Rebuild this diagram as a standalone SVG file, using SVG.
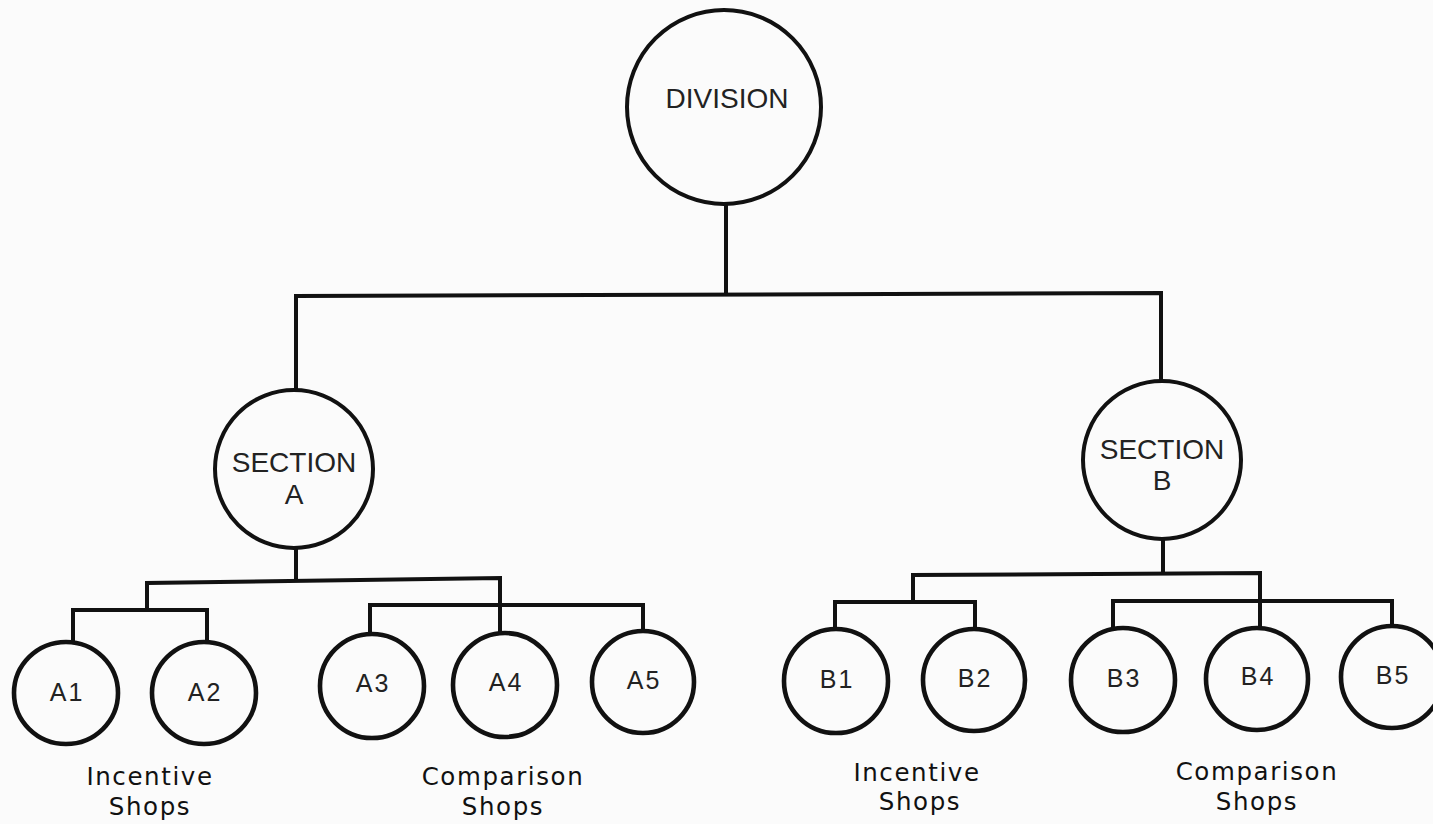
<svg xmlns="http://www.w3.org/2000/svg" width="1433" height="824" viewBox="0 0 1433 824">
<style>
.node{fill:none;stroke:#111;stroke-width:4}
.leaf{fill:none;stroke:#111;stroke-width:4.6}
.conn{fill:none;stroke:#111;stroke-width:4;stroke-linejoin:miter}
.lbl{font-family:"Liberation Sans",Arial,sans-serif;fill:#222;text-anchor:middle}
.big{font-size:28px}
.small{font-size:25px;letter-spacing:2px}
.cap{font-family:"DejaVu Sans",sans-serif;font-size:24.5px;fill:#111;text-anchor:middle;letter-spacing:1.6px}
</style>
<rect width="1433" height="824" fill="#fbfbfb"/>
<g id="connectors">
<path class="conn" d="M726,203 V294"/>
<path class="conn" d="M296,391 V296 L1161,293 V382"/>
<path class="conn" d="M296,548 V581"/>
<path class="conn" d="M147,610 V583 L500,578 V632"/>
<path class="conn" d="M73,643 V610 H207 V642"/>
<path class="conn" d="M370,634 V605 H643 V631"/>
<path class="conn" d="M1163,539 V574"/>
<path class="conn" d="M913,602 V575 L1260,573 V628"/>
<path class="conn" d="M835,630 V602 H975 V628"/>
<path class="conn" d="M1113,628 V601 H1392 V626"/>
</g>
<g id="division"><circle class="node" cx="724" cy="107" r="97"/><text class="lbl big" x="727" y="108">DIVISION</text></g>
<g id="sectionA"><circle class="node" cx="294" cy="469" r="79"/><text class="lbl big" x="294" y="472">SECTION</text><text class="lbl big" x="294" y="504">A</text></g>
<g id="sectionB"><circle class="node" cx="1162" cy="460" r="79"/><text class="lbl big" x="1162" y="459">SECTION</text><text class="lbl big" x="1162" y="490">B</text></g>
<g id="A1"><ellipse class="leaf" cx="66" cy="693" rx="52" ry="51"/><text class="lbl small" x="67" y="701">A1</text></g>
<g id="A2"><ellipse class="leaf" cx="204" cy="693" rx="52" ry="51"/><text class="lbl small" x="205" y="701">A2</text></g>
<g id="A3"><circle class="leaf" cx="372" cy="686" r="52"/><text class="lbl small" x="373" y="692">A3</text></g>
<g id="A4"><circle class="leaf" cx="505" cy="685" r="52"/><text class="lbl small" x="506" y="691">A4</text></g>
<g id="A5"><circle class="leaf" cx="643" cy="682" r="51"/><text class="lbl small" x="644" y="689">A5</text></g>
<g id="B1"><circle class="leaf" cx="836" cy="681" r="52"/><text class="lbl small" x="837" y="688">B1</text></g>
<g id="B2"><circle class="leaf" cx="974" cy="680" r="51"/><text class="lbl small" x="975" y="687">B2</text></g>
<g id="B3"><circle class="leaf" cx="1123" cy="680" r="52"/><text class="lbl small" x="1124" y="687">B3</text></g>
<g id="B4"><circle class="leaf" cx="1257" cy="679" r="51"/><text class="lbl small" x="1258" y="685">B4</text></g>
<g id="B5"><circle class="leaf" cx="1392" cy="677" r="51"/><text class="lbl small" x="1393" y="684">B5</text></g>
<g id="labels">
<text class="cap" x="150" y="785">Incentive</text><text class="cap" x="150" y="815">Shops</text>
<text class="cap" x="503" y="785">Comparison</text><text class="cap" x="503" y="815">Shops</text>
<text class="cap" x="917" y="781">Incentive</text><text class="cap" x="920" y="810">Shops</text>
<text class="cap" x="1257" y="780">Comparison</text><text class="cap" x="1257" y="810">Shops</text>
</g>
</svg>
